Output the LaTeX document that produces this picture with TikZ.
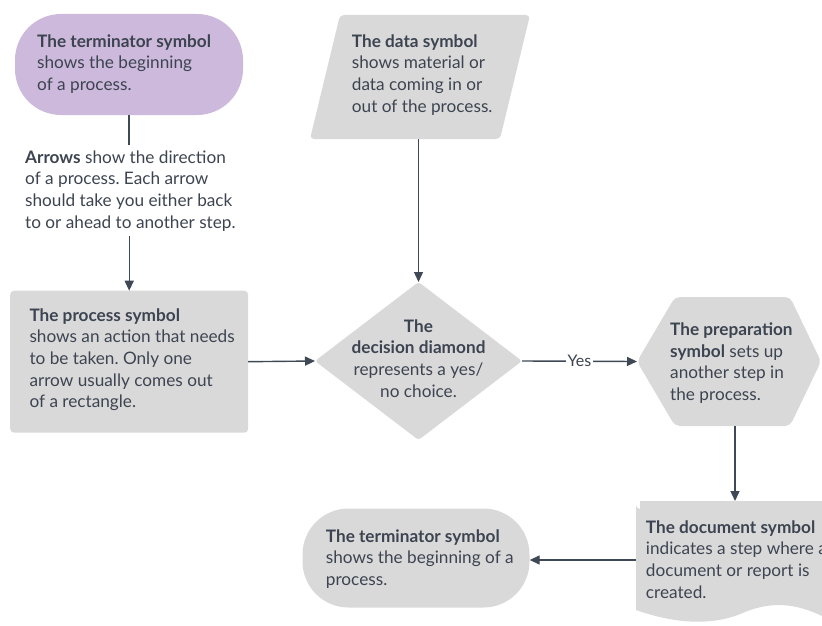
\documentclass[tikz,border=0pt]{standalone}
\usepackage{fontspec}
\setmainfont{Lato}
\usetikzlibrary{arrows.meta,shapes.geometric}
\definecolor{ink}{HTML}{3D4451}
\definecolor{wire}{HTML}{3F4855}
\definecolor{boxgray}{HTML}{D9D9D9}
\definecolor{lilac}{HTML}{CDB9DB}
\frenchspacing
\tikzset{
  lbl/.style={inner sep=0pt, anchor=north west, align=left, text=ink,
    font=\fontsize{17.2}{21.7}\selectfont},
  flow/.style={draw=wire, line width=1.4pt, -{Triangle[length=10pt,width=9pt]}},
  plain/.style={draw=wire, line width=1.4pt},
  pill/.style={fill=#1, rounded corners=46pt, inner sep=0pt},
  frame/.style={inner sep=0pt, outer sep=0pt},
}
\begin{document}
\begin{tikzpicture}[x=1pt,y=-1pt]
\useasboundingbox (0,0) rectangle (822,626);
\clip (0,0) rectangle (822,626);

% start terminator
\node[pill=lilac, minimum width=228pt, minimum height=101pt] (start) at (129,64.5) {};
\node[lbl] at (37,34.2) {\textbf{The terminator symbol}\\shows the beginning\\of a process.};

% note about arrows
\node[lbl, inner ysep=5pt] (note) at (25,145.2)
  {\textbf{Arrows} show the direction\\of a process. Each arrow\\should take you either back\\to or ahead to another step.};

% process rectangle
\node[frame, fill=boxgray, rounded corners=4pt, minimum width=238pt, minimum height=142pt] (proc) at (129.2,361.7) {};
\node[lbl] at (29.3,308.2) {\textbf{The process symbol}\\shows an action that needs\\to be taken. Only one\\arrow usually comes out\\of a rectangle.};

% data parallelogram
\node[frame, minimum width=220pt, minimum height=124pt] (data) at (420,77) {};
\fill[boxgray, rounded corners=4pt] (340,15) -- (530,15) -- (500,139) -- (310,139) -- cycle;
\node[lbl] at (351.7,34.2) {\textbf{The data symbol}\\shows material or\\data coming in or\\out of the process.};

% decision diamond
\node[diamond, frame, fill=boxgray, aspect=1.31, minimum width=207pt, minimum height=158pt, rounded corners=3pt] (dec) at (418.5,361) {};
\node[lbl, anchor=north, align=center] at (418.5,319.2) {\textbf{The}\\\textbf{decision diamond}\\represents a yes/\\no choice.};

% preparation hexagon
\node[frame, minimum width=196pt, minimum height=129pt] (prep) at (735,361.5) {};
\fill[boxgray, rounded corners=5pt] (637,361.5) -- (675,297) -- (790,297) -- (821,361.5) -- (790,426) -- (675,426) -- cycle;
\node[lbl] at (670,322.5) {\textbf{The preparation}\\\textbf{symbol} sets up\\another step in\\the process.};

% document
\node[frame, minimum width=198pt, minimum height=118pt] (doc) at (735,560) {};
\fill[boxgray] (640,501) -- (830,501) -- (830,620)
  .. controls (800,604) and (775,600) .. (745,612)
  .. controls (710,628) and (670,622) .. (636,610) -- (636,505)
  arc[start angle=180, end angle=90, radius=4] -- cycle;
\node[lbl] at (645.7,520.2) {\textbf{The document symbol}\\indicates a step where a\\document or report is\\created.};

% end terminator
\node[pill=boxgray, minimum width=227pt, minimum height=99pt] (end) at (416,558) {};
\node[lbl] at (325.7,529.2) {\textbf{The terminator symbol}\\shows the beginning of a\\process.};

% connectors
\draw[plain] (start.south) -- (start.south |- note.north);
\draw[flow] (proc.north |- note.south) -- (proc.north);
\draw[flow] (dec.north |- data.south) -- (dec.north);
\draw[flow] (proc.east) -- (dec.west);
\draw[flow] (dec.east) -- node[fill=white, inner xsep=1.5pt, inner ysep=2pt, text=ink, font=\fontsize{16}{18}\selectfont] (yes) {Yes} (prep.west);
\draw[flow] (prep.south) -- (doc.north);
\draw[flow] (doc.west) -- (doc.west -| end.east);
\end{tikzpicture}
\end{document}
